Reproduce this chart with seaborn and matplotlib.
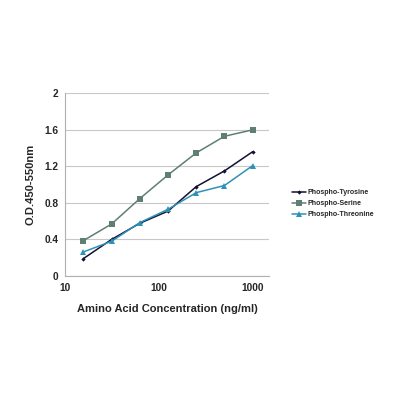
import matplotlib
matplotlib.use("Agg")
import matplotlib.pyplot as plt
import seaborn as sns
import pandas as pd

concentration = [15.625, 31.25, 62.5, 125, 250, 500, 1000]
tyrosine = [0.19, 0.40, 0.577, 0.71, 0.978, 1.15, 1.36]
serine = [0.387, 0.569, 0.847, 1.106, 1.347, 1.529, 1.599]
threonine = [0.263, 0.38, 0.584, 0.73, 0.912, 0.99, 1.208]
series_names = ["Phospho-Tyrosine", "Phospho-Serine", "Phospho-Threonine"]
y_ticks = [0, 0.4, 0.8, 1.2, 1.6, 2]
y_tick_labels = ["0", "0.4", "0.8", "1.2", "1.6", "2"]
x_ticks = [10, 100, 1000]
x_tick_labels = ["10", "100", "1000"]

rows = []
for name, vals in zip(series_names, [tyrosine, serine, threonine]):
    for c, v in zip(concentration, vals):
        rows.append({"conc": c, "od": v, "series": name})
df = pd.DataFrame(rows)

sns.set_style("white")
plt.rcParams['font.family'] = ['Liberation Sans', 'DejaVu Sans']

fig = plt.figure(figsize=(4, 4), dpi=100)
ax = fig.add_axes([0.163, 0.31, 0.51, 0.457])

palette = {"Phospho-Tyrosine": "#111133", "Phospho-Serine": "#5f7f74", "Phospho-Threonine": "#2f90b8"}
markers = {"Phospho-Tyrosine": "D", "Phospho-Serine": "s", "Phospho-Threonine": "^"}
sizes = {"Phospho-Tyrosine": 2.2, "Phospho-Serine": 4.5, "Phospho-Threonine": 4.5}
for name in series_names:
    sub = df[df.series == name]
    sns.lineplot(data=sub, x="conc", y="od", ax=ax, color=palette[name], marker=markers[name],
                 markersize=sizes[name], markeredgewidth=0, linewidth=1.1, label=name)

ax.set_xscale("log")
ax.set_xlim(10, 1500)
ax.set_ylim(0, 2)
ax.set_yticks(y_ticks)
ax.set_yticklabels(y_tick_labels)
ax.set_xticks(x_ticks)
ax.set_xticklabels(x_tick_labels)
ax.minorticks_off()
ax.grid(axis="y", color="#c8c8c8", linewidth=0.8)
ax.grid(axis="x", visible=False)
for s in ["top", "right"]:
    ax.spines[s].set_visible(False)
for s in ["left", "bottom"]:
    ax.spines[s].set_color("#b0b0b0")
    ax.spines[s].set_linewidth(0.8)
ax.tick_params(axis="both", which="major", length=3, color="#b0b0b0", labelsize=7.3, pad=2)
for lab in ax.get_xticklabels() + ax.get_yticklabels():
    lab.set_fontweight("bold")
ax.set_xlabel("Amino Acid Concentration (ng/ml)", fontsize=8, fontweight="bold", labelpad=8)
ax.set_ylabel("O.D.450-550nm", fontsize=8, fontweight="bold", labelpad=6)

leg = ax.legend(loc="center left", bbox_to_anchor=(1.08, 0.395), frameon=False,
                fontsize=5, handlelength=2.0, handletextpad=0.2, labelspacing=0.6)
for t in leg.get_texts():
    t.set_fontweight("bold")

fig.savefig("out.png", dpi=100, facecolor="white")
